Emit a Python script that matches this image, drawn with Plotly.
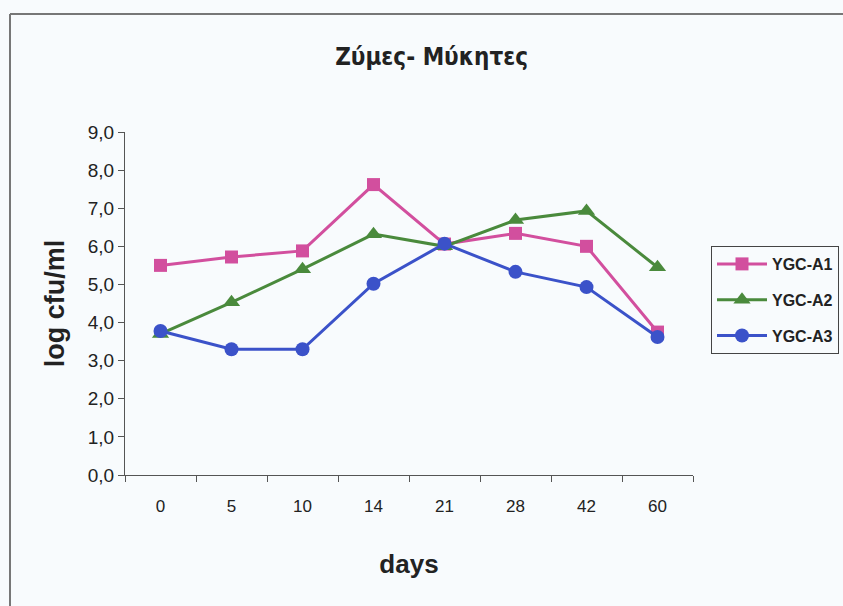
import plotly.graph_objects as go

# Sampling days (categorical x axis)
days = ["0", "5", "10", "14", "21", "28", "42", "60"]

# log cfu/ml per sample
ygc_a1 = [5.50, 5.72, 5.88, 7.62, 6.06, 6.34, 6.00, 3.75]
ygc_a2 = [3.70, 4.53, 5.40, 6.32, 6.00, 6.69, 6.93, 5.45]
ygc_a3 = [3.78, 3.30, 3.30, 5.02, 6.07, 5.33, 4.93, 3.62]

series_names = ["YGC-A1", "YGC-A2", "YGC-A3"]
series_values = [ygc_a1, ygc_a2, ygc_a3]
series_colors = ["#d24f9e", "#4a8a3c", "#3b52c9"]
series_symbols = ["square", "triangle-up", "circle"]
series_sizes = [13, 15, 14]

fig = go.Figure()
for name, vals, col, sym, sz in zip(series_names, series_values, series_colors,
                                    series_symbols, series_sizes):
    fig.add_trace(go.Scatter(
        x=days, y=vals, name=f"<b>{name}</b>", mode="lines+markers",
        legendgroup=name,
        line=dict(color=col, width=3),
        marker=dict(symbol=sym, size=sz, color=col),
    ))

bg = "#f8fbfd"
axis_col = "#555555"
font_main = "Liberation Sans, Arial, sans-serif"

# plot area in pixels
L, R, T, B = 125, 693, 132, 475
W, H = R - L, B - T

fig.update_layout(
    width=843, height=606,
    margin=dict(l=L, r=843 - R, t=T, b=606 - B, autoexpand=False),
    paper_bgcolor=bg, plot_bgcolor=bg,
    separators=",.",
    font=dict(family=font_main, color="#222222"),
    title=dict(
        text="<b>Ζύμες- Μύκητες</b>",
        x=0.512, xanchor="center", y=1 - 57 / 606, yanchor="middle",
        font=dict(family="DejaVu Sans Condensed, DejaVu Sans, sans-serif",
                  size=24, color="#222222"),
    ),
    xaxis=dict(
        type="category", range=[-0.5, 7.5],
        showline=True, linecolor=axis_col, linewidth=1,
        ticks="outside", tickson="boundaries", ticklen=6,
        tickcolor=axis_col, showgrid=False, zeroline=False,
        ticklabelstandoff=16,
        tickfont=dict(size=17, color="#222222"),
        title=dict(text="<b>days</b>", standoff=39,
                   font=dict(size=26, color="#222222")),
    ),
    yaxis=dict(
        range=[0, 9], dtick=1, tickformat=".1f",
        showline=True, linecolor=axis_col, linewidth=1,
        ticks="outside", ticklen=6, tickcolor=axis_col,
        showgrid=False, zeroline=False,
        tickfont=dict(size=19, color="#222222"),
        title=dict(text="<b>log cfu/ml</b>", standoff=15,
                   font=dict(size=27, color="#222222")),
    ),
    legend=dict(
        x=(711 - L) / W, xanchor="left", y=(B - 246) / H, yanchor="top",
        bgcolor=bg, bordercolor="#444444", borderwidth=1,
        traceorder="grouped", tracegroupgap=12, itemwidth=50,
        font=dict(size=16, color="#222222"),
    ),
    shapes=[
        # outer chart frame (top and left edges visible)
        dict(type="line", xref="paper", yref="paper",
             x0=(10 - L) / W, x1=1.5, y0=(B - 14) / H, y1=(B - 14) / H,
             line=dict(color="#777777", width=2)),
        dict(type="line", xref="paper", yref="paper",
             x0=(10 - L) / W, x1=(10 - L) / W, y0=(B - 14) / H, y1=-0.5,
             line=dict(color="#777777", width=2)),
    ],
)

fig.write_html("out.html")
